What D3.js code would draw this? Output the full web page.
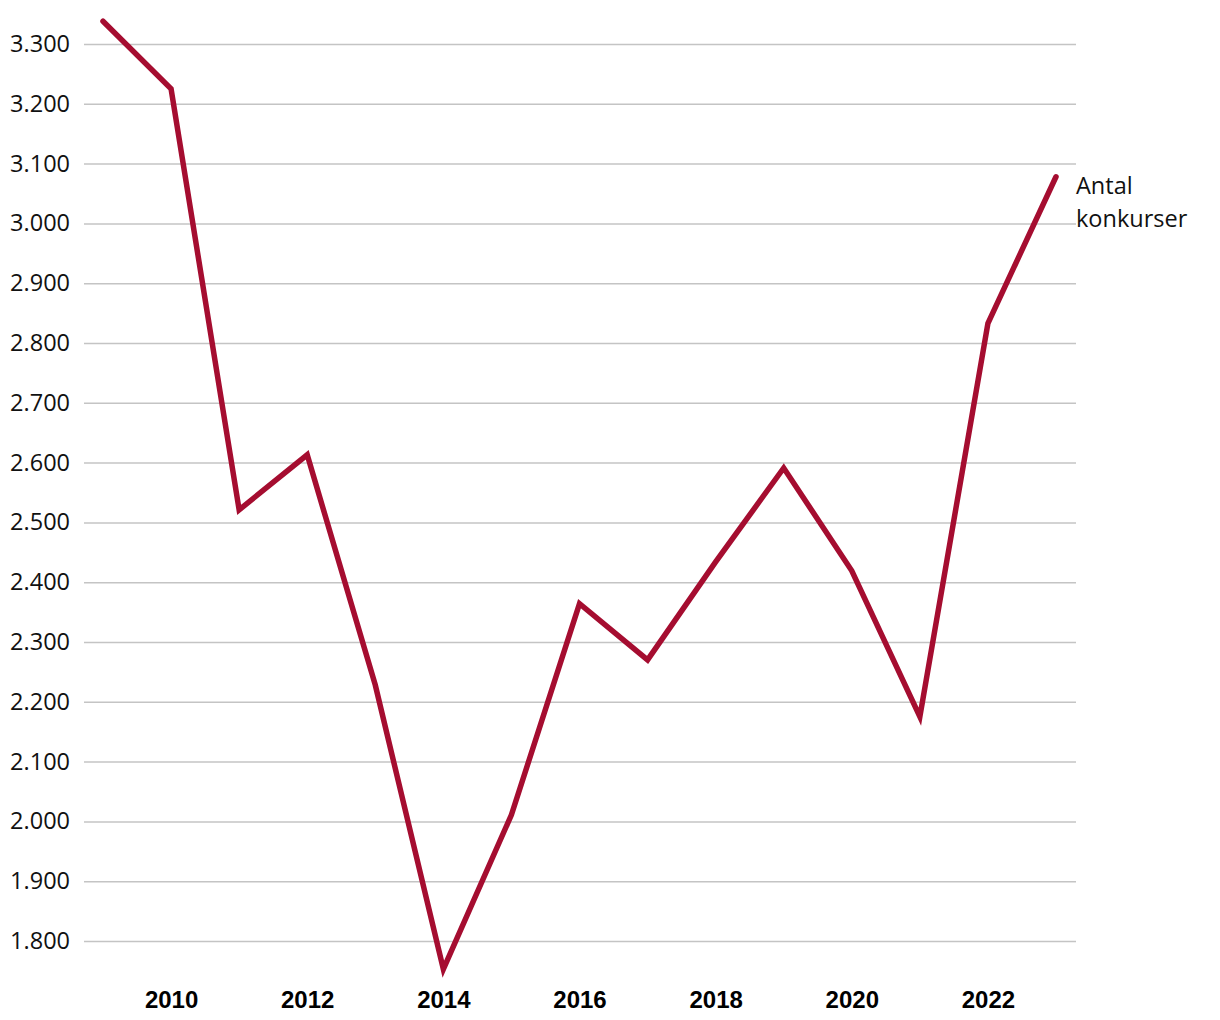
<!DOCTYPE html>
<html><head><meta charset="utf-8">
<script src="https://cdn.jsdelivr.net/npm/d3@7"></script>
<style>body{margin:0;background:#fff}svg{display:block}</style>
</head><body>
<svg id="c" width="1220" height="1020"></svg>
<script>
const years = [2009,2010,2011,2012,2013,2014,2015,2016,2017,2018,2019,2020,2021,2022,2023];
const bankruptcies = [3338,3225,2521,2613,2228,1753,2011,2364,2270,2434,2591,2419,2175,2833,3078];
const yTicks = [1800,1900,2000,2100,2200,2300,2400,2500,2600,2700,2800,2900,3000,3100,3200,3300];
const xTicks = [2010,2012,2014,2016,2018,2020,2022];
const seriesLabel = ["Antal","konkurser"];

const svg = d3.select("#c");
const x = d3.scaleLinear().domain([2009,2023]).range([103,1056]);
const y = d3.scaleLinear().domain([1800,3300]).range([941,44]);
const fmt = v => d3.format(",")(v).replace(/,/g,".");

const yAxis = d3.axisLeft(y).tickValues(yTicks).tickFormat(fmt).tickSize(-(1076-84)).tickPadding(14);
const gy = svg.append("g").attr("transform","translate(84,0)").call(yAxis);
gy.select(".domain").remove();
gy.selectAll(".tick line").attr("stroke","#c4c4c4").attr("stroke-width",1.5);
gy.selectAll(".tick text").attr("font-family","'Open Sans'").attr("font-size",23.5).attr("fill","#111");

const xAxis = d3.axisBottom(x).tickValues(xTicks).tickFormat(d3.format("d")).tickSize(0).tickPadding(0);
const gx = svg.append("g").attr("transform","translate(0,991)").call(xAxis);
gx.select(".domain").remove();
gx.selectAll(".tick text").attr("font-family","'Liberation Sans'").attr("font-weight","bold").attr("font-size",24).attr("fill","#000").attr("dy","0.7em");

const line = d3.line().x((d,i)=>x(years[i])).y(d=>y(d));
svg.append("path").datum(bankruptcies).attr("d",line)
  .attr("fill","none").attr("stroke","#a50d30").attr("stroke-width",5.5)
  .attr("stroke-linejoin","miter").attr("stroke-linecap","round");

const lbl = svg.append("text").attr("x",1076).attr("y",y(bankruptcies[bankruptcies.length-1])+17)
  .attr("font-family","'Open Sans'").attr("font-size",23.5).attr("fill","#111");
seriesLabel.forEach((t,i)=>lbl.append("tspan").attr("x",1076).attr("dy",i?"1.4em":0).text(t));
</script>
</body></html>
